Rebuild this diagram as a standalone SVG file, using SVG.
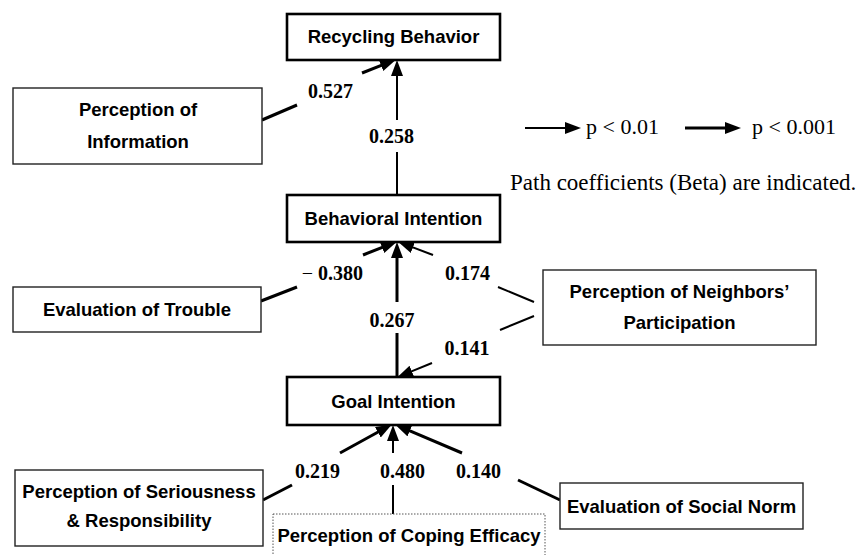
<svg xmlns="http://www.w3.org/2000/svg" width="859" height="555" viewBox="0 0 859 555">
<style>
.bg{fill:#fff}
.main{fill:#fff;stroke:#000;stroke-width:2.6}
.box{fill:#fff;stroke:#222;stroke-width:1.4}
.dot{fill:#fff;stroke:#555;stroke-width:1;stroke-dasharray:1.5 1.5}
.lbl{font-family:"Liberation Sans",Arial,sans-serif;font-weight:bold;font-size:18.5px;fill:#000;text-anchor:middle}
.num{font-family:"Liberation Serif","Times New Roman",serif;font-weight:bold;font-size:20px;fill:#000;text-anchor:middle}
.leg{font-family:"Liberation Serif","Times New Roman",serif;font-size:22px;fill:#000}
.thin{stroke:#000;stroke-width:2;fill:none}
.thick{stroke:#000;stroke-width:3;fill:none}
</style>
<defs>
<marker id="ah" markerUnits="userSpaceOnUse" markerWidth="17" markerHeight="13" refX="5" refY="6" orient="auto">
<path d="M0,0 L16,6 L0,12 z" fill="#000"/>
</marker>
</defs>
<rect class="bg" x="0" y="0" width="859" height="555"/>

<g id="connectors">
<!-- Information -> Recycling -->
<line class="thick" x1="262" y1="120" x2="297" y2="105"/>
<line class="thick" x1="362" y1="73" x2="385.7" y2="63.7" marker-end="url(#ah)"/>
<!-- Behavioral -> Recycling -->
<line class="thin" x1="397" y1="195" x2="397" y2="152"/>
<line class="thin" x1="397" y1="120" x2="397" y2="71" marker-end="url(#ah)"/>
<!-- Trouble -> Behavioral -->
<line class="thick" x1="261" y1="301" x2="297" y2="287"/>
<line class="thick" x1="363" y1="255" x2="386.7" y2="245.7" marker-end="url(#ah)"/>
<!-- Neighbors -> Behavioral -->
<line class="thin" x1="534" y1="302" x2="498" y2="287"/>
<line class="thin" x1="433" y1="255" x2="408.3" y2="245.6" marker-end="url(#ah)"/>
<!-- Neighbors -> Goal -->
<line class="thin" x1="534" y1="316" x2="500" y2="330"/>
<line class="thin" x1="432" y1="363" x2="407.2" y2="373.2" marker-end="url(#ah)"/>
<!-- Goal -> Behavioral -->
<line class="thick" x1="397" y1="377" x2="397" y2="333"/>
<line class="thick" x1="397" y1="302" x2="397" y2="253" marker-end="url(#ah)"/>
<!-- Seriousness -> Goal -->
<line class="thick" x1="263" y1="500" x2="292" y2="485"/>
<line class="thick" x1="340" y1="453" x2="382.2" y2="429.8" marker-end="url(#ah)"/>
<!-- Coping -> Goal -->
<line class="thin" x1="393" y1="514" x2="393" y2="485"/>
<line class="thin" x1="393" y1="453" x2="393" y2="436" marker-end="url(#ah)"/>
<!-- Social Norm -> Goal -->
<line class="thick" x1="560" y1="500" x2="518" y2="480"/>
<line class="thick" x1="462" y1="453" x2="405.2" y2="428.9" marker-end="url(#ah)"/>

<text class="num" x="330.5" y="98">0.527</text>
<text class="num" x="391.5" y="143">0.258</text>
<text class="num" x="363" y="280" style="text-anchor:end"><tspan style="font-weight:normal">−</tspan> 0.380</text>
<text class="num" x="467.5" y="280">0.174</text>
<text class="num" x="392" y="327">0.267</text>
<text class="num" x="467" y="355">0.141</text>
<text class="num" x="317.5" y="478">0.219</text>
<text class="num" x="402.5" y="478">0.480</text>
<text class="num" x="478.5" y="478">0.140</text>
</g>

<g id="recycling-behavior">
<rect class="main" x="287" y="14" width="213" height="46"/>
<text class="lbl" x="393.5" y="43">Recycling Behavior</text>
</g>
<g id="behavioral-intention">
<rect class="main" x="287" y="195" width="213" height="47"/>
<text class="lbl" x="393.5" y="225">Behavioral Intention</text>
</g>
<g id="goal-intention">
<rect class="main" x="287" y="377" width="213" height="48"/>
<text class="lbl" x="393.5" y="407.5">Goal Intention</text>
</g>
<g id="perception-information">
<rect class="box" x="13" y="88" width="249" height="76"/>
<text class="lbl" x="138" y="116">Perception of</text>
<text class="lbl" x="138" y="148">Information</text>
</g>
<g id="evaluation-trouble">
<rect class="box" x="13" y="287" width="248" height="45"/>
<text class="lbl" x="137" y="316">Evaluation of Trouble</text>
</g>
<g id="perception-neighbors">
<rect class="box" x="543" y="270" width="273" height="75"/>
<text class="lbl" x="679.5" y="298">Perception of Neighbors’</text>
<text class="lbl" x="679.5" y="329">Participation</text>
</g>
<g id="perception-seriousness">
<rect class="box" x="15" y="470" width="248" height="76"/>
<text class="lbl" x="139" y="498">Perception of Seriousness</text>
<text class="lbl" x="139" y="527">&amp; Responsibility</text>
</g>
<g id="perception-coping">
<rect class="dot" x="273" y="514" width="272" height="60"/>
<text class="lbl" x="409" y="542">Perception of Coping Efficacy</text>
</g>
<g id="evaluation-social-norm">
<rect class="box" x="560" y="483" width="243" height="46"/>
<text class="lbl" x="681.5" y="512.5">Evaluation of Social Norm</text>
</g>

<g id="legend">
<line class="thin" x1="525" y1="128" x2="570" y2="128" marker-end="url(#ah)"/>
<text class="leg" x="586" y="134">p &lt; 0.01</text>
<line class="thick" x1="685" y1="128" x2="730" y2="128" marker-end="url(#ah)"/>
<text class="leg" x="752" y="134">p &lt; 0.001</text>
<text class="leg" x="510" y="190" style="font-size:23px">Path coefficients (Beta) are indicated.</text>
</g>
</svg>
